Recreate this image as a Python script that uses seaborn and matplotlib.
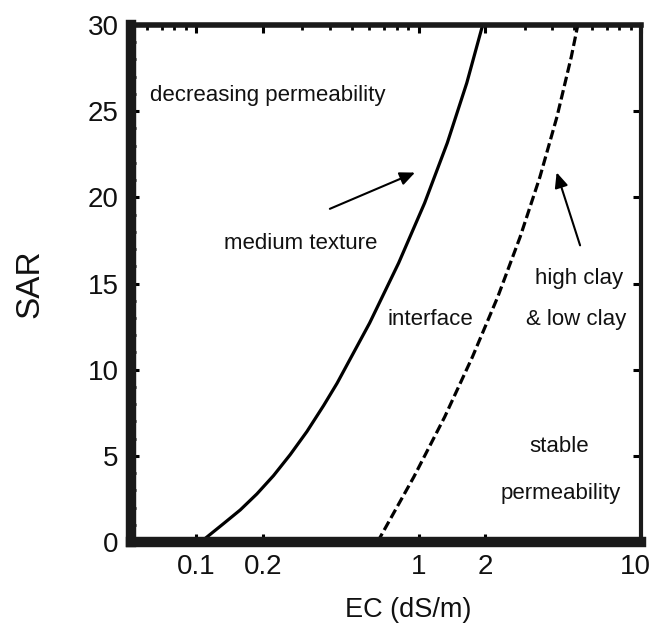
import numpy as np
import pandas as pd
import seaborn as sns
import matplotlib
matplotlib.use("Agg")
import matplotlib.pyplot as plt
import matplotlib.transforms as mtransforms
from matplotlib.ticker import FixedLocator, NullFormatter, FixedFormatter

# ---- data ----
solid_ec = [0.105, 0.1327, 0.158, 0.1877, 0.2229, 0.265, 0.315, 0.3745, 0.4303,
            0.603, 0.814, 1.065, 1.347, 1.648, 1.942]
solid_sar = [0, 1.06, 1.86, 2.79, 3.85, 5.07, 6.41, 7.92, 9.21,
             12.71, 16.19, 19.67, 23.16, 26.64, 30]
dashed_ec = [0.654, 0.952, 1.31, 1.747, 2.27, 2.862, 3.512, 4.19, 4.86, 5.2]
dashed_sar = [0, 3.77, 7.25, 10.74, 14.22, 17.70, 21.18, 24.67, 28.15, 30]
x_ticks = [0.1, 0.2, 1, 2, 10]
x_ticklabels = ["0.1", "0.2", "1", "2", "10"]
y_ticks = [0, 5, 10, 15, 20, 25, 30]

sns.set_style("ticks")
FAM = ["Liberation Sans", "DejaVu Sans"]
plt.rcParams["font.family"] = FAM

fig = plt.figure(figsize=(6.53, 6.35), dpi=100)
ax = fig.add_axes([131/653, 1-542/635, (641-131)/653, (542-25)/635])

solid_df = pd.DataFrame({"EC": solid_ec, "SAR": solid_sar})
dashed_df = pd.DataFrame({"EC": dashed_ec, "SAR": dashed_sar})
sns.lineplot(data=solid_df, x="EC", y="SAR", ax=ax, color="black", lw=2.3, sort=False)
sns.lineplot(data=dashed_df, x="EC", y="SAR", ax=ax, color="black", lw=2.3, sort=False,
             linestyle=(0, (3.0, 1.3)))

ax.set_xscale("log")
ax.set_xlim(0.051, 10)
ax.set_ylim(0, 30)

ax.xaxis.set_major_locator(FixedLocator(x_ticks))
ax.xaxis.set_major_formatter(FixedFormatter(x_ticklabels))
minors = [m * 10.0**e for e in (-2, -1, 0) for m in range(2, 10)]
ax.xaxis.set_minor_locator(FixedLocator([v for v in minors if 0.051 < v < 10 and v not in x_ticks]))
ax.xaxis.set_minor_formatter(NullFormatter())
ax.yaxis.set_major_locator(FixedLocator(y_ticks))
ax.yaxis.set_minor_locator(FixedLocator(list(range(0, 31))))

ax.tick_params(which="both", direction="in", top=True, right=True, color="black")
ax.tick_params(which="major", length=6, width=2.2, labelsize=20, pad=9, labelcolor="#111111")
ax.tick_params(which="minor", length=3.5, width=2.0)
ax.tick_params(axis="y", which="minor", right=False)

for side, w in {"left": 7.5, "bottom": 7.5, "top": 4.0, "right": 3.0}.items():
    ax.spines[side].set_linewidth(w)
    ax.spines[side].set_color("#1a1a1a")
    ax.spines[side].set_visible(True)

ax.set_xlabel("EC (dS/m)", fontsize=19.5, family=FAM, labelpad=12, color="#111111")
ax.xaxis.label.set_x((408 - 131) / 510)
ax.set_ylabel("SAR", fontsize=24, family=FAM, labelpad=30, color="#111111")

tkw = dict(fontsize=16, family=FAM, ha="center", va="center", color="#111111")
ax.text(0.209, 25.9, "decreasing permeability", **tkw)
ax.text(0.294, 17.35, "medium texture", **tkw)
ax.text(1.13, 12.9, "interface", **tkw)
ax.text(5.26, 15.3, "high clay", **tkw)
ax.text(5.1, 12.9, "& low clay", **tkw)
ax.text(4.27, 5.57, "stable", **tkw)
ax.text(4.36, 2.84, "permeability", **tkw)

ax.annotate("", xy=(0.99, 21.5), xytext=(0.389, 19.27),
            arrowprops=dict(arrowstyle="-|>,head_length=0.9,head_width=0.4", color="black", lw=1.5))
ax.annotate("", xy=(4.14, 21.6), xytext=(5.37, 17.06),
            arrowprops=dict(arrowstyle="-|>,head_length=0.9,head_width=0.4", color="black", lw=1.5))

fig.canvas.draw()
ticks = ax.xaxis.get_major_ticks()
for t in ticks:
    t.label1.set_family(FAM)
last = ticks[-1].label1
last.set_transform(last.get_transform() + mtransforms.ScaledTranslation(-4/72, 0, fig.dpi_scale_trans))

fig.savefig("out.png", dpi=100)
